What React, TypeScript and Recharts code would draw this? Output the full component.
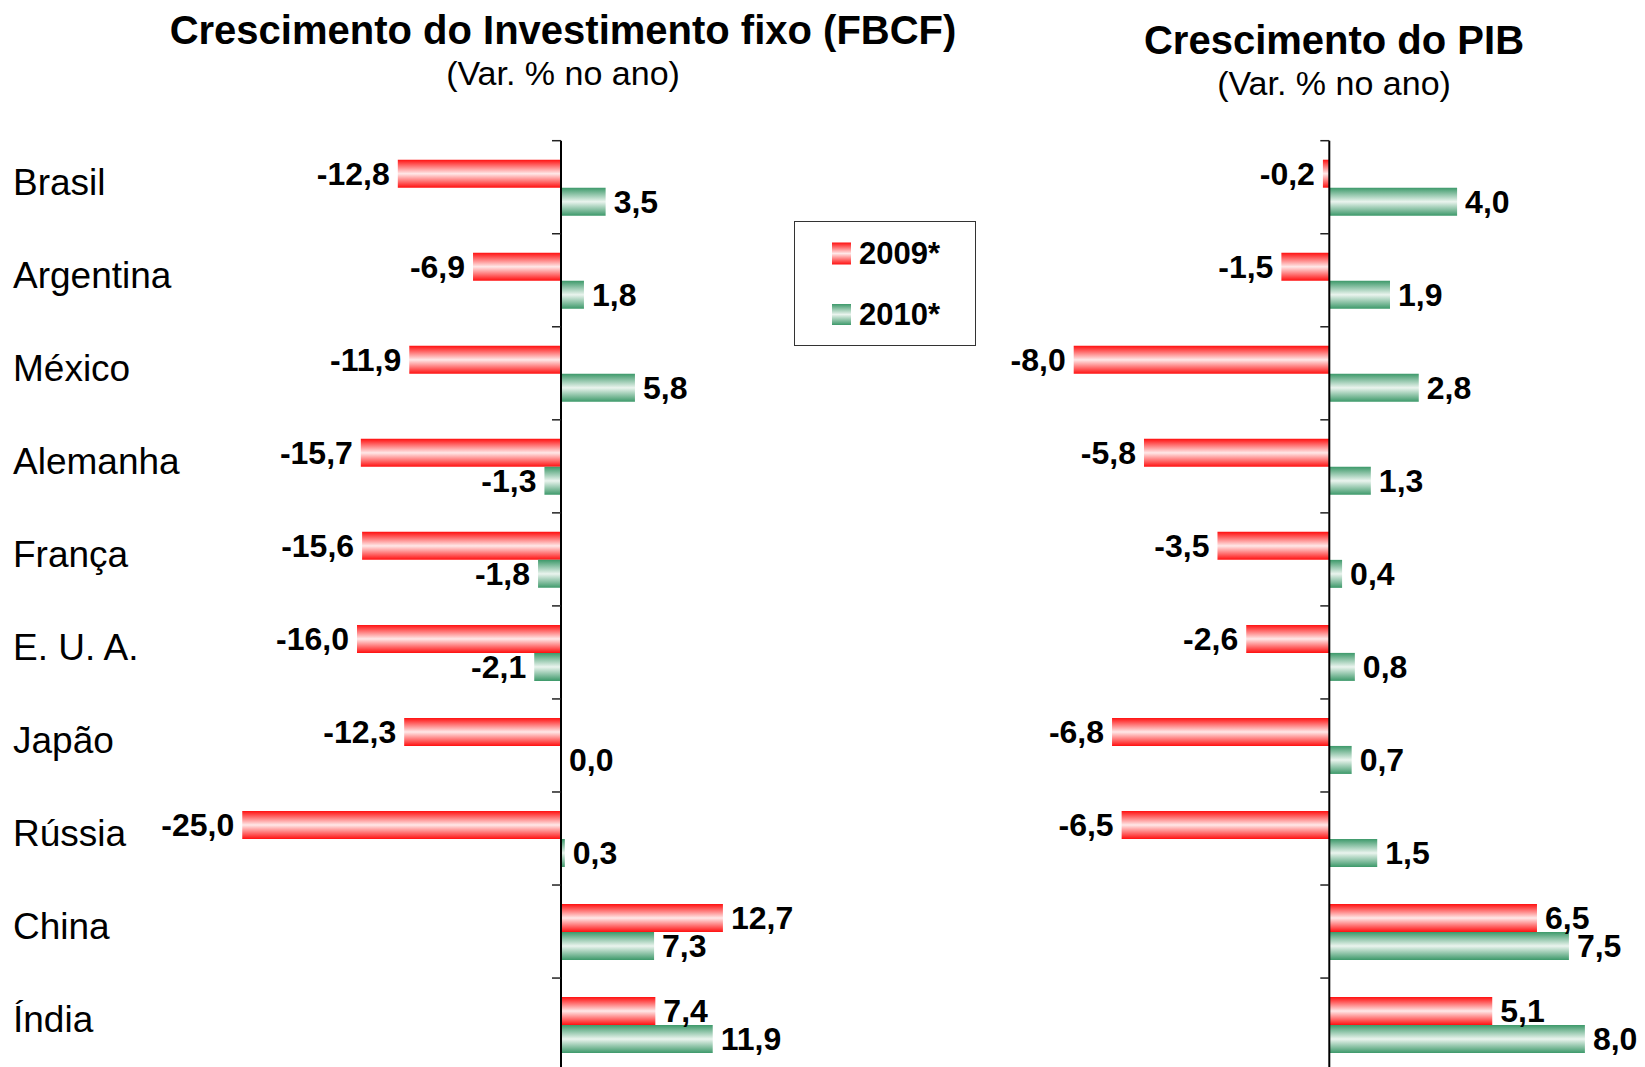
import React from 'react';
import { BarChart, Bar, XAxis, YAxis, ReferenceLine, LabelList } from 'recharts';

const countries = ['Brasil', 'Argentina', 'México', 'Alemanha', 'França', 'E. U. A.', 'Japão', 'Rússia', 'China', 'Índia'];
const fbcf2009 = [-12.8, -6.9, -11.9, -15.7, -15.6, -16.0, -12.3, -25.0, 12.7, 7.4];
const fbcf2010 = [3.5, 1.8, 5.8, -1.3, -1.8, -2.1, 0.0, 0.3, 7.3, 11.9];
const pib2009 = [-0.2, -1.5, -8.0, -5.8, -3.5, -2.6, -6.8, -6.5, 6.5, 5.1];
const pib2010 = [4.0, 1.9, 2.8, 1.3, 0.4, 0.8, 0.7, 1.5, 7.5, 8.0];
const seriesNames = ['2009*', '2010*'];

const fbcfData = countries.map((name, i) => ({ name, a: fbcf2009[i], b: fbcf2010[i] }));
const pibData = countries.map((name, i) => ({ name, a: pib2009[i], b: pib2010[i] }));

const FONT = '"Liberation Sans", Arial, Helvetica, sans-serif';
const CHART_H = 1080;
const PLOT_TOP = 140.7;
const PLOT_H = 930.4;
const BAND = PLOT_H / countries.length;
const AXIS_W = 1;

const fmt = (v: number) => v.toFixed(1).replace('.', ',');

// layout of the two panels (svg coords of each chart)
const left = { offset: 0, width: 820, plotLeft: 114.75, plotW: 637.5, domain: [-35, 15] as [number, number] };
const right = { offset: 860, width: 800, plotLeft: 149.8, plotW: 639, domain: [-10, 10] as [number, number] };

const zeroOf = (p: typeof left) => p.plotLeft + ((0 - p.domain[0]) / (p.domain[1] - p.domain[0])) * p.plotW;

const ValueLabel = (props: any) => {
    const { x, y, width, height, value } = props;
    const v = Number(value);
    const x0 = Number(x);
    const w = Number(width) || 0;
    const end = v < 0 ? Math.min(x0, x0 + w) : Math.max(x0, x0 + w);
    const cy = Number(y) + Number(height) / 2;
    return (
        <text
            x={v < 0 ? end - 8 : end + 8}
            y={cy + 11.3}
            textAnchor={v < 0 ? 'end' : 'start'}
            fontFamily={FONT}
            fontWeight="bold"
            fontSize={32}
            fill="#000"
        >
            {fmt(v)}
        </text>
    );
};

function makeTick(zeroX: number, showLabel: boolean) {
    return (props: any) => {
        const { y, payload } = props;
        const top = y - BAND / 2;
        return (
            <g>
                <line x1={zeroX - 9} x2={zeroX} y1={top} y2={top} stroke="#222" strokeWidth={1.5} />
                {showLabel && (
                    <text x={13} y={y + 7.5} fontFamily={FONT} fontSize={37} fill="#000">
                        {payload.value}
                    </text>
                )}
            </g>
        );
    };
}

function Panel({ data, panel, showLabels }: { data: any[]; panel: typeof left; showLabels: boolean }) {
    const zeroX = zeroOf(panel);
    return (
        <div style={{ position: 'absolute', left: panel.offset, top: 0 }}>
            <BarChart
                width={panel.width}
                height={CHART_H}
                data={data}
                layout="vertical"
                barCategoryGap={19}
                barGap={0}
                margin={{
                    top: PLOT_TOP,
                    bottom: CHART_H - PLOT_TOP - PLOT_H,
                    left: panel.plotLeft - AXIS_W,
                    right: panel.width - panel.plotLeft - panel.plotW,
                }}
            >
                <XAxis type="number" domain={panel.domain} allowDataOverflow hide />
                <YAxis
                    type="category"
                    dataKey="name"
                    width={AXIS_W}
                    axisLine={false}
                    tickLine={false}
                    interval={0}
                    tick={makeTick(zeroX, showLabels)}
                />
                <Bar dataKey="a" name={seriesNames[0]} fill="url(#gradRed)" minPointSize={0.01} isAnimationActive={false}>
                    <LabelList dataKey="a" content={ValueLabel} />
                </Bar>
                <Bar dataKey="b" name={seriesNames[1]} fill="url(#gradGreen)" minPointSize={0.01} isAnimationActive={false}>
                    <LabelList dataKey="b" content={ValueLabel} />
                </Bar>
                <ReferenceLine x={0} stroke="#000" strokeWidth={2} />
            </BarChart>
        </div>
    );
}

export default function App() {
    return (
        <div
            style={{
                position: 'fixed',
                left: 0,
                top: 0,
                width: 1645,
                height: 1067,
                overflow: 'hidden',
                background: '#fff',
                fontFamily: FONT,
            }}
        >
            <svg width={0} height={0} style={{ position: 'absolute' }}>
                <defs>
                    <linearGradient id="gradRed" x1="0" y1="0" x2="0" y2="1">
                        <stop offset="0" stopColor="#ff1010" />
                        <stop offset="0.5" stopColor="#ffe8e8" />
                        <stop offset="1" stopColor="#ff1010" />
                    </linearGradient>
                    <linearGradient id="gradGreen" x1="0" y1="0" x2="0" y2="1">
                        <stop offset="0" stopColor="#3d996a" />
                        <stop offset="0.5" stopColor="#eaf4ee" />
                        <stop offset="1" stopColor="#3d996a" />
                    </linearGradient>
                </defs>
            </svg>

            <Panel data={fbcfData} panel={left} showLabels={true} />
            <Panel data={pibData} panel={right} showLabels={false} />

            <svg width={1645} height={110} style={{ position: 'absolute', left: 0, top: 0 }}>
                <text x={563} y={43.5} textAnchor="middle" fontFamily={FONT} fontWeight="bold" fontSize={40}>
                    Crescimento do Investimento fixo (FBCF)
                </text>
                <text x={563} y={85} textAnchor="middle" fontFamily={FONT} fontSize={34}>
                    (Var. % no ano)
                </text>
                <text x={1334} y={54} textAnchor="middle" fontFamily={FONT} fontWeight="bold" fontSize={40}>
                    Crescimento do PIB
                </text>
                <text x={1334} y={95} textAnchor="middle" fontFamily={FONT} fontSize={34}>
                    (Var. % no ano)
                </text>
            </svg>

            {/* legend box */}
            <div
                style={{
                    position: 'absolute',
                    left: 793.5,
                    top: 221,
                    width: 182.5,
                    height: 125,
                    border: '1px solid #333',
                    boxSizing: 'border-box',
                    background: '#fff',
                }}
            >
                <svg width={180} height={123}>
                    <rect x={37} y={20.5} width={19} height={22} fill="url(#gradRed)" />
                    <text x={64} y={42} fontFamily={FONT} fontWeight="bold" fontSize={31}>
                        {seriesNames[0]}
                    </text>
                    <rect x={37} y={82} width={19} height={21} fill="url(#gradGreen)" />
                    <text x={64} y={103} fontFamily={FONT} fontWeight="bold" fontSize={31}>
                        {seriesNames[1]}
                    </text>
                </svg>
            </div>
        </div>
    );
}
